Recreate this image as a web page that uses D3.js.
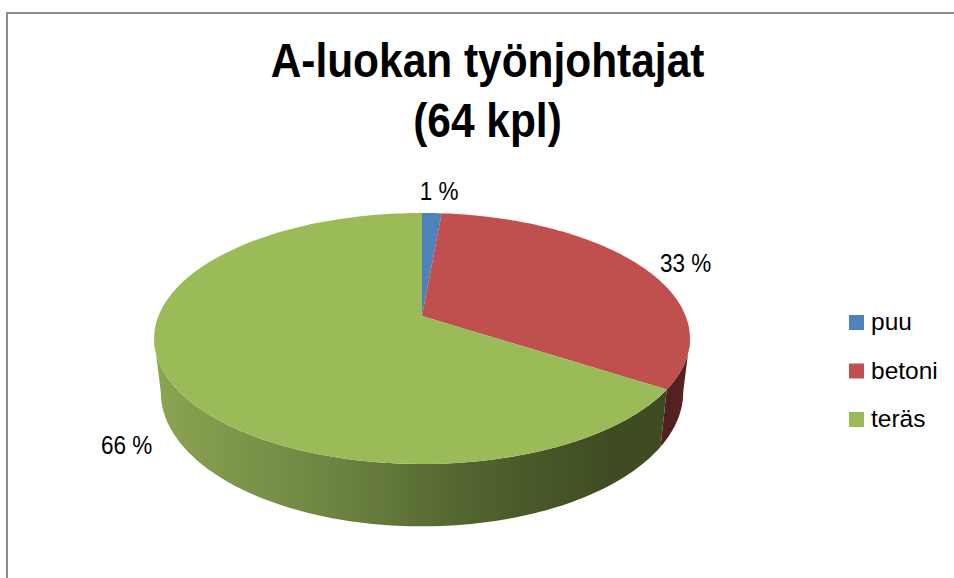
<!DOCTYPE html>
<html>
<head>
<meta charset="utf-8">
<script src="https://cdn.jsdelivr.net/npm/d3@7"></script>
<style>
    html, body { margin: 0; padding: 0; background: #fff; }
    svg { display: block; }
</style>
</head>
<body>
<div id="chart"></div>
<script>
// data
const titleLines = ["A-luokan työnjohtajat", "(64 kpl)"];
const categories = ["puu", "betoni", "teräs"];
const shares = [1.4, 32.8, 65.8];
const pieColors = ["#4f81bd", "#c0504d", "#9bbb59"];

const width = 954, height = 578;

let svg = d3.select("#chart").append("svg")
    .attr("width", width)
    .attr("height", height);

// chart frame, runs off the right and bottom of the picture
svg.append("rect")
    .attr("x", 7).attr("y", 13)
    .attr("width", width).attr("height", height)
    .attr("fill", "#fff")
    .attr("stroke", "#8c8c8c")
    .attr("stroke-width", 2);

// title, squeezed because no narrow font is around
svg.selectAll(".title").data(titleLines).enter().append("text")
    .attr("class", "title")
    .attr("transform", (d, i) => "translate(487.5," + (77 + i * 60) + ") scale(0.884,1)")
    .attr("text-anchor", "middle")
    .attr("font-family", "'Liberation Sans', sans-serif")
    .attr("font-weight", "bold")
    .attr("font-size", 48)
    .attr("fill", "#000")
    .text(d => d);

// pie in perspective: far side of the disc is squeezed
const k = 0.179;
const topDisc = {x: 422, y: 316, a: 121.5, b: 263.6};
const bottomDisc = {x: 422, y: 368, a: 130, b: 257};

function project(disc, angle) {
    let u = Math.sin(angle), v = Math.cos(angle), w = 1 + k * v;
    return [disc.x + disc.b * u / w, disc.y - disc.a * v / w];
}

function arcPoints(disc, a0, a1) {
    return d3.range(0, 121).map(i => project(disc, a0 + (a1 - a0) * i / 120));
}

const pie = d3.pie().sort(null).value(d => d);
const slices = pie(shares);
const line = d3.line();

// side wall shading
const defs = svg.append("defs");
const wallStops = [
    [["0%", "#8ba552"], ["35%", "#6c8240"], ["60%", "#50632f"], ["85%", "#3f4c22"], ["100%", "#3f4c22"]],
    [["0%", "#4a1c1c"], ["100%", "#5a2322"]]
];
wallStops.forEach((stops, i) => {
    let g = defs.append("linearGradient")
        .attr("id", "wall" + i)
        .attr("gradientUnits", "userSpaceOnUse")
        .attr("x1", i === 0 ? 154 : 640).attr("x2", 690)
        .attr("y1", 0).attr("y2", 0);
    g.selectAll("stop").data(stops).enter().append("stop")
        .attr("offset", d => d[0])
        .attr("stop-color", d => d[1]);
});

// only the front of the rim shows, between the two side extremes
const rightEdge = Math.PI / 2 + Math.asin(k);
const leftEdge = 3 * Math.PI / 2 - Math.asin(k);

slices.forEach((s, i) => {
    let a0 = Math.max(s.startAngle, rightEdge), a1 = Math.min(s.endAngle, leftEdge);
    if (a1 <= a0) return;
    let pts = arcPoints(topDisc, a0, a1).concat(arcPoints(bottomDisc, a0, a1).reverse());
    svg.append("path")
        .attr("d", line(pts) + "Z")
        .attr("fill", "url(#wall" + (i === 2 ? 0 : 1) + ")");
});

// top of the disc
svg.selectAll(".slice").data(slices).enter().append("path")
    .attr("class", "slice")
    .attr("d", s => line([[topDisc.x, topDisc.y]].concat(arcPoints(topDisc, s.startAngle, s.endAngle))) + "Z")
    .attr("fill", (s, i) => pieColors[i]);

// data labels
const labelX = [439, 685.5, 126.5];
const labelY = [200, 272, 454];
svg.selectAll(".label").data(shares).enter().append("text")
    .attr("class", "label")
    .attr("transform", (d, i) => "translate(" + labelX[i] + "," + labelY[i] + ") scale(0.9,1)")
    .attr("text-anchor", "middle")
    .attr("font-family", "'Liberation Sans', sans-serif")
    .attr("font-size", 25)
    .attr("fill", "#000")
    .text(d => Math.round(d) + " %");

// legend
let legendY = d3.scalePoint().domain(categories).range([323, 420]);
let legend = svg.selectAll(".legend").data(categories).enter().append("g")
    .attr("class", "legend")
    .attr("transform", d => "translate(849," + legendY(d) + ")");
legend.append("rect")
    .attr("x", 0).attr("y", -8)
    .attr("width", 15).attr("height", 15)
    .attr("fill", (d, i) => pieColors[i]);
legend.append("text")
    .attr("x", 22).attr("y", 7)
    .attr("font-family", "'Liberation Sans', sans-serif")
    .attr("font-size", 24.5)
    .attr("fill", "#000")
    .text(d => d);
</script>
</body>
</html>
